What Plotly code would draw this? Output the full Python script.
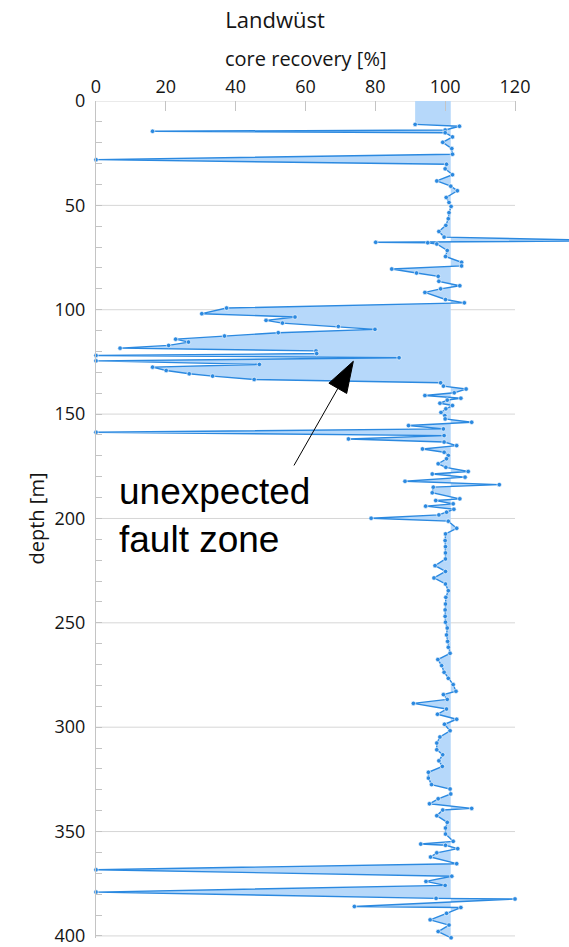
import plotly.graph_objects as go

# ---------------- data ----------------
depth = [11.2, 12.1, 13.9, 14.5, 15.2, 17.2, 19.8, 22.8, 25.5, 28.1,
         30.3, 32.5, 35.3, 38.3, 40.8, 43.0, 46.2, 48.6, 50.5, 53.5,
         56.4, 59.6, 62.5, 65.2, 67.0, 67.7, 67.9, 68.5, 71.6, 74.5,
         77.3, 79.0, 80.5, 82.4, 84.0, 86.4, 88.5, 90.0, 91.7, 95.1,
         96.7, 99.2, 101.9, 103.5, 105.1, 106.4, 108.0, 109.4, 111.0, 112.6,
         114.1, 115.5, 117.1, 118.4, 119.7, 121.0, 121.9, 123.0, 124.5, 126.2,
         127.5, 129.1, 130.7, 131.8, 133.4, 135.0, 136.6, 138.0, 139.8, 141.1,
         142.4, 143.3, 144.8, 145.9, 147.5, 149.2, 150.7, 152.3, 153.9, 155.5,
         157.1, 158.7, 160.3, 161.9, 163.4, 165.1, 166.7, 168.3, 169.8, 171.4,
         173.8, 175.5, 177.5, 178.7, 180.2, 182.2, 183.8, 185.0, 187.7, 190.6,
         191.4, 193.0, 194.1, 195.6, 197.0, 198.3, 199.9, 201.3, 204.7, 207.4,
         210.6, 213.5, 216.5, 219.4, 222.6, 225.4, 228.5, 231.4, 234.6, 237.8,
         241.0, 243.8, 246.9, 249.7, 252.5, 255.8, 258.9, 261.7, 264.6, 267.6,
         270.5, 273.7, 276.6, 279.6, 282.8, 284.4, 286.7, 288.6, 291.3, 293.8,
         296.2, 298.6, 301.7, 304.7, 307.6, 310.8, 313.2, 316.1, 318.8, 321.6,
         324.4, 327.5, 329.6, 332.0, 334.3, 336.7, 338.9, 339.7, 342.4, 345.6,
         348.3, 351.2, 354.7, 356.0, 356.6, 358.2, 360.2, 362.2, 365.4, 368.3,
         371.4, 373.9, 375.8, 379.0, 382.0, 382.3, 385.9, 386.4, 389.2, 392.3,
         394.8, 397.9, 400.9]

recovery = [91.4, 104.1, 100.0, 16.2, 100.0, 102.1, 99.3, 101.9, 102.1, 0.0,
            100.4, 100.0, 102.1, 97.6, 101.6, 103.5, 100.3, 101.1, 101.7, 101.1,
            100.9, 100.2, 98.2, 99.7, 150.0, 80.1, 95.0, 97.6, 100.6, 100.1,
            104.7, 104.7, 84.7, 91.8, 98.0, 98.2, 104.2, 98.7, 94.2, 100.1,
            105.5, 37.4, 30.3, 57.0, 48.7, 53.4, 69.4, 79.9, 52.2, 36.8,
            22.8, 26.5, 20.8, 6.9, 63.0, 63.2, 0.0, 86.8, 0.0, 46.8,
            16.2, 20.1, 26.7, 33.4, 45.3, 98.7, 99.5, 106.0, 102.6, 94.2,
            104.5, 100.6, 98.5, 102.1, 100.2, 98.8, 99.9, 100.0, 107.6, 89.5,
            99.5, 0.0, 99.7, 72.3, 99.7, 103.3, 93.5, 99.7, 100.9, 100.4,
            98.0, 100.2, 106.6, 96.3, 105.7, 88.5, 115.5, 96.6, 96.3, 104.2,
            97.3, 102.3, 94.4, 102.5, 100.4, 98.2, 78.8, 100.9, 103.3, 100.1,
            100.0, 100.1, 100.1, 100.1, 97.1, 100.1, 96.8, 100.1, 100.9, 100.2,
            100.1, 100.0, 100.0, 100.1, 100.6, 100.4, 100.7, 100.9, 101.4, 97.9,
            99.0, 99.7, 100.9, 102.3, 103.1, 99.5, 100.6, 90.9, 100.4, 97.8,
            103.3, 99.8, 101.4, 98.5, 97.6, 97.6, 99.3, 98.2, 99.2, 95.2,
            95.2, 96.1, 101.4, 101.6, 98.0, 95.5, 107.6, 99.3, 97.6, 100.6,
            100.1, 100.1, 102.3, 93.0, 100.1, 103.6, 97.6, 95.8, 103.3, 0.0,
            101.9, 94.5, 100.0, 0.0, 97.4, 120.0, 74.0, 104.5, 100.4, 95.7,
            101.1, 98.0, 101.7]

BASELINE = 101.6          # reference line the shading is drawn against
x_ticks = [0, 20, 40, 60, 80, 100, 120]
y_ticks = [0, 50, 100, 150, 200, 250, 300, 350, 400]
title_text = "Landwüst"
x_title = "core recovery [%]"
y_title = "depth [m]"
note_text = "unexpected<br>fault zone"

# ---------------- styling ----------------
LINE_C = "#2B89E0"
FILL_C = "#B6D8FA"
GRID_C = "#D6D6D6"
AXIS_C = "#C4C4C4"
TXT_C = "#151515"
FONT = "Open Sans"

fill_depth = [0] + depth
fill_rec = [recovery[0]] + recovery

fig = go.Figure()
fig.add_trace(go.Scatter(x=[BASELINE] * len(fill_depth), y=fill_depth, mode="lines",
                         line=dict(width=0), hoverinfo="skip", showlegend=False))
fig.add_trace(go.Scatter(x=fill_rec, y=fill_depth, mode="lines", fill="tonextx",
                         fillcolor=FILL_C, line=dict(width=0), hoverinfo="skip",
                         showlegend=False))
fig.add_trace(go.Scatter(x=recovery, y=depth, mode="lines+markers",
                         line=dict(color=LINE_C, width=1.4),
                         marker=dict(color=LINE_C, size=4.5, line=dict(color="white", width=0.6)),
                         cliponaxis=False, showlegend=False))

shapes = []
for yv in y_ticks:
    shapes.append(dict(type="line", xref="x", yref="y", x0=x_ticks[0], x1=x_ticks[-1],
                       y0=yv, y1=yv, line=dict(color=GRID_C, width=1), layer="below"))

# arrow (line + filled head)
shapes.append(dict(type="line", xref="x", yref="y", x0=56.7, y0=174.6, x1=69.3, y1=137.6,
                   line=dict(color="black", width=1)))
shapes.append(dict(type="path", xref="x", yref="y",
                   path="M 73.7,124.7 L 66.7,135.2 L 71.8,140.1 Z",
                   fillcolor="black", line=dict(color="black", width=1)))

W, H = 569, 947
L, R, T = 96, 0, 101
px_per_m = 835.0 / 400
y_bottom = 401
B = int(round(H - T - px_per_m * y_bottom))
plot_w = W - L - R
x_max = x_ticks[-1] * plot_w / (515 - L)

fig.update_layout(
    width=W, height=H,
    margin=dict(l=L, r=R, t=T, b=B, autoexpand=False),
    paper_bgcolor="white", plot_bgcolor="white",
    font=dict(family=FONT, size=18, color=TXT_C),
    title=dict(text=title_text, x=275 / W, xanchor="center", xref="container",
               y=1 - 20 / H, yanchor="middle", yref="container",
               font=dict(family=FONT, size=22, color=TXT_C)),
    xaxis=dict(side="top", range=[0, x_max], tickvals=x_ticks, ticks="inside",
               ticklen=10, tickcolor=AXIS_C, showgrid=False, zeroline=False,
               showline=False, tickfont=dict(size=18), ticklabelstandoff=3),
    yaxis=dict(range=[y_bottom, 0], tickvals=y_ticks, ticks="inside", ticklen=6,
               tickcolor=AXIS_C, showgrid=False, zeroline=False, showline=True,
               linecolor=AXIS_C, linewidth=1, ticklabelstandoff=6,
               ticklabeloverflow="allow",
               tickfont=dict(size=18),
               minor=dict(dtick=10, ticks="inside", ticklen=6, tickcolor=AXIS_C,
                          showgrid=False)),
    shapes=shapes,
    annotations=[
        dict(text=x_title, xref="x", x=60, yref="paper", y=1, yanchor="middle",
             yshift=43, showarrow=False, font=dict(family=FONT, size=20, color=TXT_C)),
        dict(text=y_title, xref="paper", x=-(L - 36) / plot_w, xanchor="center",
             yref="y", y=200, yanchor="middle", textangle=-90, showarrow=False,
             font=dict(family=FONT, size=20, color=TXT_C)),
        dict(text=note_text, xref="x", x=6.0, xanchor="left", yref="y", y=198.5,
             yanchor="middle", align="left", showarrow=False,
             font=dict(family="Liberation Sans", size=37, color="black")),
    ],
)

fig.write_html("out.html", config={"displayModeBar": False},
               post_script="document.body.style.margin='0';")
